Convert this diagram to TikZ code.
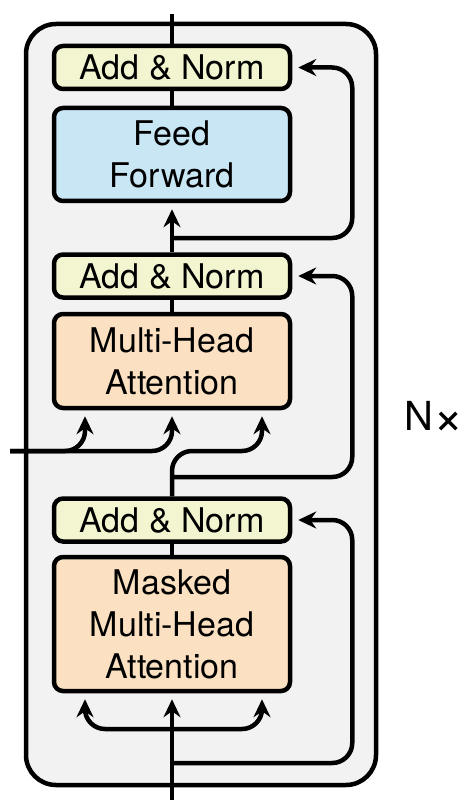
\documentclass[tikz,border=0pt]{standalone}
\usepackage{fontspec}
\usepackage{graphicx}
\setmainfont{TeX Gyre Heros}
\usetikzlibrary{arrows.meta}
\definecolor{normcol}{HTML}{F2F5CF}
\definecolor{ffcol}{HTML}{C9E6F5}
\definecolor{attcol}{HTML}{FBE1C1}
\definecolor{framecol}{HTML}{F2F2F2}
\begin{document}
\begin{tikzpicture}[x=1pt,y=-1pt,
    blk/.style={draw,line width=4.5pt,rounded corners=9pt,minimum width=236pt,
                align=center,inner sep=0pt,font=\fontsize{34}{42}\selectfont},
    norm/.style={blk,fill=normcol,minimum height=43pt},
    ffbox/.style={blk,fill=ffcol,minimum height=93pt},
    attbox/.style={blk,fill=attcol},
    layer/.style={draw,line width=4.5pt,rounded corners=30pt,fill=framecol,
                  minimum width=350pt,minimum height=761pt},
    wire/.style={line width=4.5pt},
    arr/.style={wire,-{Stealth[length=18pt,width=17pt,inset=6pt]},shorten >=6pt},
    loop/.style={arr,rounded corners=20pt}]
  \useasboundingbox (0,0) rectangle (468,810);
  % the decoder layer, repeated N times
  \node[layer] (dec) at (201,404.5) {};
  \node[norm] (an1) at (172,67.5) {Add \& Norm};
  \node[ffbox] (ffn) at (172,154.5) {Feed\\Forward};
  \node[norm] (an2) at (172,276) {Add \& Norm};
  \node[attbox,minimum height=94pt] (mha) at (172,361) {Multi-Head\\Attention};
  \node[norm] (an3) at (172,520) {Add \& Norm};
  \node[attbox,minimum height=134pt] (mmha) at (172,624)
    {Masked\\Multi-Head\\Attention};
  \node[font=\fontsize{40}{44}\selectfont,inner sep=0pt] (nx) at (434,418)
    {N\raisebox{-4pt}{\scalebox{1.3}{×}}};
  % free ends and branch points
  \coordinate (top) at (172,14);
  \coordinate (bot) at (172,800);
  \coordinate (enc) at (10,451);
  \coordinate (kv) at (262,451);
  \coordinate (fork) at (172,729);
  \coordinate (res1) at (172,238);
  \coordinate (res2) at (172,477);
  \coordinate (res3) at (172,763);
  % main path
  \draw[wire] (an1.north) -- (top);
  \draw[wire] (an1.south) -- (ffn.north);
  \draw[arr] (an2.north) -- (ffn.south);
  \draw[wire] (an2.south) -- (mha.north);
  \draw[wire] (an3.south) -- (mmha.north);
  \draw[arr] (bot) -- (mmha.south);
  % inputs of the two attention blocks
  \draw[loop] (fork) -| ([xshift=-87pt]mmha.south);
  \draw[loop] (fork) -| ([xshift=90pt]mmha.south);
  \draw[loop] (enc) -| ([xshift=-87pt]mha.south);
  \draw[loop] (enc) -| (mha.south);
  \draw[loop] (an3.north) |- (kv) -- ([xshift=90pt]mha.south);
  % residual connections
  \draw[loop] (res1) -| ([xshift=60pt]an1.east) -- (an1.east);
  \draw[loop] (res2) -| ([xshift=60pt]an2.east) -- (an2.east);
  \draw[loop] (res3) -| ([xshift=60pt]an3.east) -- (an3.east);
\end{tikzpicture}
\end{document}
